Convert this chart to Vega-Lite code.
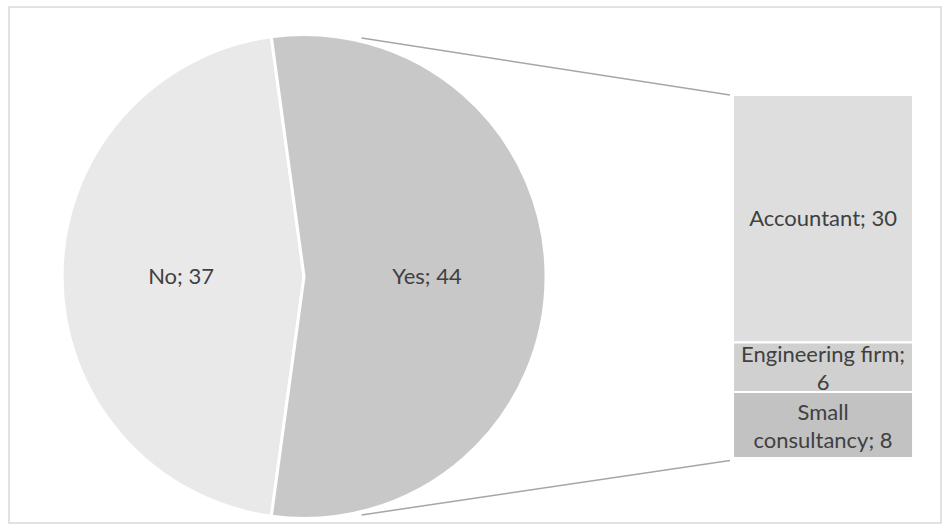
{
  "$schema": "https://vega.github.io/schema/vega-lite/v6.json",
  "width": 932,
  "height": 516,
  "padding": {"left": 9, "top": 7, "right": 9, "bottom": 7},
  "autosize": {"type": "none"},
  "background": "white",
  "config": {
    "view": {"stroke": "#d9d9d9", "strokeWidth": 1.5},
    "axis": {"disable": true},
    "text": {"font": "Lato", "fontSize": 22, "color": "#404040"}
  },
  "datasets": {
    "pie": [
      {"category": "No", "value": 37},
      {"category": "Yes", "value": 44}
    ],
    "bar": [
      {"type": "Accountant", "value": 30, "label": "Accountant; 30"},
      {"type": "Engineering firm", "value": 6, "label": "Engineering firm;\n6"},
      {"type": "Small consultancy", "value": 8, "label": "Small\nconsultancy; 8"}
    ]
  },
  "layer": [
    {
      "data": {"values": [{"link": "top"}]},
      "mark": {"type": "rule", "color": "#a6a6a6", "strokeWidth": 1.5},
      "encoding": {
        "x": {"datum": "pie", "type": "nominal", "bandPosition": 0.82, "axis": null,
              "scale": {"type": "band", "domain": ["pie", "bar"], "paddingInner": 0.6532, "paddingOuter": 0.2245, "align": 0.88}},
        "y": {"datum": -6.9, "type": "quantitative", "axis": null,
              "scale": {"domain": [-10.667, 51.879], "reverse": true, "nice": false, "zero": false}},
        "x2": {"datum": "bar", "bandPosition": -0.017},
        "y2": {"datum": 0}
      }
    },
    {
      "data": {"values": [{"link": "bottom"}]},
      "mark": {"type": "rule", "color": "#a6a6a6", "strokeWidth": 1.5},
      "encoding": {
        "x": {"datum": "pie", "type": "nominal", "bandPosition": 0.82, "axis": null},
        "y": {"datum": 50.9, "type": "quantitative", "axis": null},
        "x2": {"datum": "bar", "bandPosition": -0.017},
        "y2": {"datum": 44.3}
      }
    },
    {
      "data": {"name": "pie"},
      "mark": {"type": "arc", "outerRadius": 242, "stroke": "white", "strokeWidth": 3},
      "encoding": {
        "theta": {"field": "value", "type": "quantitative", "stack": true,
                  "scale": {"range": [-0.13575, 6.14744]}},
        "order": {"field": "category", "sort": "descending"},
        "color": {"field": "category", "type": "nominal", "legend": null,
                  "scale": {"domain": ["No", "Yes"], "range": ["#e9e9e9", "#c8c8c8"]}},
        "x": {"datum": "pie", "type": "nominal", "bandPosition": 0.5, "axis": null},
        "y": {"datum": 22, "type": "quantitative", "axis": null}
      }
    },
    {
      "data": {"name": "pie"},
      "transform": [{"calculate": "datum.category + '; ' + datum.value", "as": "label"}],
      "mark": {"type": "text", "radius": 123, "align": "center", "baseline": "middle"},
      "encoding": {
        "theta": {"field": "value", "type": "quantitative", "stack": true,
                  "scale": {"range": [-0.13575, 6.14744]}},
        "order": {"field": "category", "sort": "descending"},
        "text": {"field": "label", "type": "nominal"},
        "x": {"datum": "pie", "type": "nominal", "bandPosition": 0.5, "axis": null},
        "y": {"datum": 22, "type": "quantitative", "axis": null}
      }
    },
    {
      "data": {"name": "bar"},
      "mark": {"type": "bar", "stroke": "white", "strokeWidth": 2},
      "encoding": {
        "x": {"datum": "bar", "type": "nominal", "axis": null},
        "y": {"field": "value", "type": "quantitative", "stack": "zero", "axis": null},
        "order": {"field": "type", "sort": "ascending"},
        "color": {"field": "type", "type": "nominal", "legend": null,
                  "scale": {"domain": ["Accountant", "Engineering firm", "Small consultancy"], "range": ["#dedede", "#d0d0d0", "#c2c2c2"]}}
      }
    },
    {
      "data": {"name": "bar"},
      "transform": [
        {"window": [{"op": "sum", "field": "value", "as": "cum"}], "sort": [{"field": "type", "order": "ascending"}]},
        {"calculate": "datum.cum - datum.value / 2", "as": "mid"},
        {"filter": "indexof(datum.label, '\\n') < 0"}
      ],
      "mark": {"type": "text", "align": "center", "baseline": "middle"},
      "encoding": {
        "x": {"datum": "bar", "type": "nominal", "bandPosition": 0.5, "axis": null},
        "y": {"field": "mid", "type": "quantitative", "axis": null},
        "text": {"field": "label", "type": "nominal"}
      }
    },
    {
      "data": {"name": "bar"},
      "transform": [
        {"window": [{"op": "sum", "field": "value", "as": "cum"}], "sort": [{"field": "type", "order": "ascending"}]},
        {"calculate": "datum.cum - datum.value / 2", "as": "mid"},
        {"filter": "indexof(datum.label, '\\n') >= 0"}
      ],
      "mark": {"type": "text", "lineBreak": "\n", "lineHeight": 28, "dy": -12, "align": "center", "baseline": "middle"},
      "encoding": {
        "x": {"datum": "bar", "type": "nominal", "bandPosition": 0.5, "axis": null},
        "y": {"field": "mid", "type": "quantitative", "axis": null},
        "text": {"field": "label", "type": "nominal"}
      }
    }
  ],
  "resolve": {"scale": {"color": "independent"}}
}
